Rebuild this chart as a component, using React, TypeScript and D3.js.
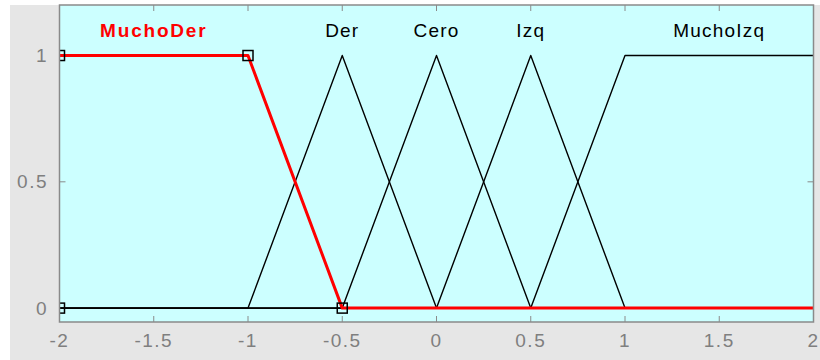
import React from 'react';
import * as d3 from 'd3';

// membership functions of the input variable
const mfNames = ['MuchoDer', 'Der', 'Cero', 'Izq', 'MuchoIzq'];
const mfTypes = ['trapmf', 'trimf', 'trimf', 'trimf', 'trapmf'];
const mfParams = [
  [-2, -2, -1, -0.5],
  [-1, -0.5, 0],
  [-0.5, 0, 0.5],
  [0, 0.5, 1],
  [0.5, 1, 2, 2],
];
const labelX = [-1.5, -0.5, 0, 0.5, 1.5];
const selectedMf = 0;

const xTicks = [-2, -1.5, -1, -0.5, 0, 0.5, 1, 1.5, 2];
const yTicks = [0, 0.5, 1];
const xRange = [-2, 2];
const yRange = [-0.055, 1.2];

const W = 820;
const H = 360;

// vertices of a mf across the whole input range, like plotmf does
function mfPoints(type: string, p: number[]): [number, number][] {
  const [lo, hi] = xRange;
  if (type === 'trimf') {
    return [[lo, 0], [p[0], 0], [p[1], 1], [p[2], 0], [hi, 0]];
  }
  const a = p[0] === p[1] ? 1 : 0;
  const b = p[2] === p[3] ? 1 : 0;
  return [[lo, a], [p[0], a], [p[1], 1], [p[2], 1], [p[3], b], [hi, b]];
}

function cornerPoints(type: string, p: number[]): [number, number][] {
  if (type === 'trimf') return [[p[0], 0], [p[1], 1], [p[2], 0]];
  return [[p[0], 0], [p[1], 1], [p[2], 1], [p[3], 0]];
}

export default function App() {
  const x = d3.scaleLinear().domain(xRange).range([59.5, 813.5]);
  const y = d3.scaleLinear().domain(yRange).range([322, 5]);
  const line = d3.line<[number, number]>().x((d) => x(d[0])).y((d) => y(d[1]));

  const left = x(xRange[0]);
  const right = x(xRange[1]);
  const top = y(yRange[1]);
  const bottom = y(yRange[0]);
  const axisColor = '#8a8a8a';
  const order = mfNames.map((_, i) => i).filter((i) => i !== selectedMf).concat([selectedMf]);

  return (
    <div style={{ position: 'fixed', left: 0, top: 0 }}>
      <svg width={W} height={H} style={{ display: 'block', fontFamily: 'Liberation Sans, Arial, sans-serif' }}>
        <rect x={0} y={0} width={W} height={H} fill="#ffffff" />
        <rect x={10} y={5} width={W - 10} height={H - 5} fill="#e6e6e6" />
        <defs>
          <clipPath id="plotClip">
            <rect x={left} y={top} width={right - left} height={bottom - top} />
          </clipPath>
        </defs>
        <rect x={left} y={top} width={right - left} height={bottom - top} fill="#ccffff" />

        {/* ticks inside the box */}
        {xTicks.map((t) => (
          <g key={'xt' + t}>
            <line x1={x(t)} x2={x(t)} y1={bottom} y2={bottom - 6} stroke={axisColor} />
            <line x1={x(t)} x2={x(t)} y1={top} y2={top + 6} stroke={axisColor} />
            <text x={x(t)} y={347} textAnchor="middle" fontSize={19} letterSpacing={1.5} fill="#7f7f7f">{t}</text>
          </g>
        ))}
        {yTicks.map((t) => (
          <g key={'yt' + t}>
            <line x1={left} x2={left + 6} y1={y(t)} y2={y(t)} stroke={axisColor} />
            <line x1={right} x2={right - 6} y1={y(t)} y2={y(t)} stroke={axisColor} />
            <text x={48} y={y(t)} dy="0.35em" textAnchor="end" fontSize={19} letterSpacing={1.5} fill="#7f7f7f">{t}</text>
          </g>
        ))}

        <g clipPath="url(#plotClip)">
          {order.map((i) => {
            const sel = i === selectedMf;
            return (
              <g key={mfNames[i]}>
                <path
                  d={line(mfPoints(mfTypes[i], mfParams[i])) || ''}
                  fill="none"
                  stroke={sel ? '#ff0000' : '#000000'}
                  strokeWidth={sel ? 3 : 1.4}
                  strokeLinejoin="round"
                />
                {sel &&
                  cornerPoints(mfTypes[i], mfParams[i]).map((c, k) => (
                    <rect
                      key={k}
                      x={x(c[0]) - 5}
                      y={y(c[1]) - 5}
                      width={10}
                      height={10}
                      fill="none"
                      stroke="#000"
                      strokeWidth={1.5}
                    />
                  ))}
              </g>
            );
          })}
        </g>

        <rect x={left} y={top} width={right - left} height={bottom - top} fill="none" stroke={axisColor} strokeWidth={1.5} />

        {mfNames.map((n, i) => (
          <text
            key={'lab' + n}
            x={x(labelX[i])}
            y={y(1.1)}
            dy="0.35em"
            textAnchor="middle"
            fontSize={19}
            letterSpacing={i === selectedMf ? 1.8 : 1.2}
            fontWeight={i === selectedMf ? 'bold' : 'normal'}
            fill={i === selectedMf ? '#ff0000' : '#000000'}
          >
            {n}
          </text>
        ))}
      </svg>
    </div>
  );
}
